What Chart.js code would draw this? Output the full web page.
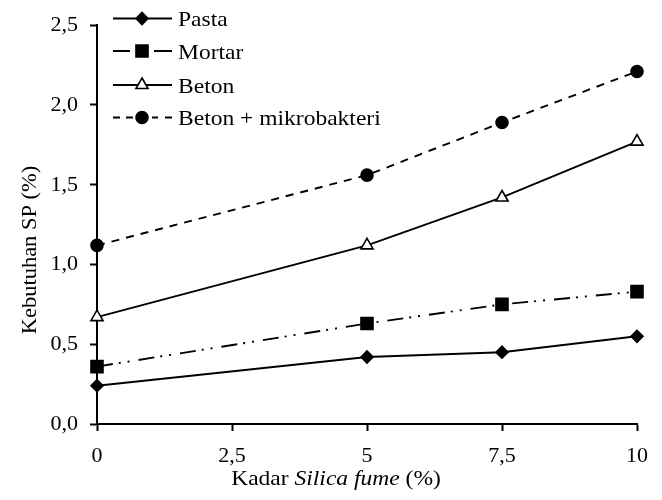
<!DOCTYPE html>
<html>
<head>
<meta charset="utf-8">
<script src="https://cdn.jsdelivr.net/npm/chart.js@4/dist/chart.umd.min.js"></script>
<style>
html,body{margin:0;padding:0;background:#fff;}
#wrap{position:relative;width:662px;height:500px;}
</style>
</head>
<body>
<div id="wrap"><canvas id="c" width="662" height="500"></canvas></div>
<script>
// ---- data ----
const silicaFume = [0, 5, 7.5, 10];
const pasta = [0.24, 0.42, 0.45, 0.55];
const mortar = [0.36, 0.63, 0.75, 0.83];
const beton = [0.67, 1.12, 1.42, 1.77];
const betonMikro = [1.12, 1.56, 1.89, 2.21];
const seriesNames = ['Pasta', 'Mortar', 'Beton', 'Beton + mikrobakteri'];
const xTickLabels = ['0', '2,5', '5', '7,5', '10'];
const yTickLabels = ['0,0', '0,5', '1,0', '1,5', '2,0', '2,5'];
const yTitle = 'Kebutuhan SP (%)';
const xTitleParts = [['Kadar ', false], ['Silica fume', true], [' (%)', false]];

const FONT = '"Liberation Serif", "Times New Roman", serif';
const FS = 21;
const HS = 1.12; // horizontal stretch of text in the reference

function pts(vals){ return vals.map((v,i)=>({x: silicaFume[i], y: v})); }

const styles = [
  {data: pasta, dash: [], ps: 'rectRot', r: 6, bg: '#000'},
  {data: mortar, dash: [16,6,2,7,2,9], ps: 'rect', r: 8.5, bg: '#000'},
  {data: beton, dash: [], ps: 'triangle', r: 7, bg: '#fff'},
  {data: betonMikro, dash: [8,7], ps: 'circle', r: 6, bg: '#000'}
];

const datasets = styles.map((s,i)=>({
  label: seriesNames[i],
  data: pts(s.data),
  borderColor: '#000',
  borderWidth: 1.9,
  borderDash: s.dash,
  pointStyle: s.ps,
  pointRadius: s.r,
  pointHoverRadius: s.r,
  pointBackgroundColor: s.bg,
  pointBorderColor: '#000',
  pointBorderWidth: 1.6,
  tension: 0,
  fill: false,
  clip: false
}));

function stretchedText(ctx, text, x, y, italic){
  ctx.save();
  ctx.font = (italic ? 'italic ' : '') + FS + 'px ' + FONT;
  ctx.translate(x, y);
  ctx.scale(HS, 1);
  ctx.textAlign = 'left';
  ctx.textBaseline = 'alphabetic';
  ctx.fillText(text, 0, 0);
  const w = ctx.measureText(text).width * HS;
  ctx.restore();
  return w;
}

const decor = {
  id: 'decor',
  afterDraw(chart){
    const ctx = chart.ctx;
    ctx.save();
    // legend
    const lx0 = 113, lx1 = 172, mx = 142, tx = 178;
    const baselines = [26, 58.5, 92.5, 125];
    chart.data.datasets.forEach((ds, i) => {
      const by = baselines[i];
      const ly = by - 7.5;
      ctx.save();
      ctx.strokeStyle = '#000';
      ctx.lineWidth = ds.borderWidth;
      ctx.beginPath();
      if (i === 1) {
        ctx.moveTo(lx0, ly); ctx.lineTo(lx0 + 17, ly);
        ctx.moveTo(lx1 - 18, ly); ctx.lineTo(lx1, ly);
      } else if (i === 3) {
        ctx.moveTo(lx0, ly); ctx.lineTo(lx0 + 7, ly);
        ctx.moveTo(lx0 + 13, ly); ctx.lineTo(lx0 + 20, ly);
        ctx.moveTo(lx1 - 20, ly); ctx.lineTo(lx1 - 14, ly);
        ctx.moveTo(lx1 - 7, ly); ctx.lineTo(lx1, ly);
      } else {
        ctx.moveTo(lx0, ly); ctx.lineTo(lx1, ly);
      }
      ctx.stroke();
      ctx.fillStyle = ds.pointBackgroundColor;
      ctx.strokeStyle = '#000';
      ctx.lineWidth = ds.pointBorderWidth;
      Chart.helpers.drawPoint(ctx, {pointStyle: ds.pointStyle, radius: ds.pointRadius, rotation: 0, borderWidth: ds.pointBorderWidth}, mx, ly);
      ctx.restore();
      ctx.fillStyle = '#000';
      stretchedText(ctx, ds.label, tx, by, false);
    });
    // x title
    ctx.fillStyle = '#000';
    let total = 0;
    xTitleParts.forEach(([t, it]) => { ctx.font = (it ? 'italic ' : '') + FS + 'px ' + FONT; total += ctx.measureText(t).width * HS; });
    let x = 336 - total / 2;
    xTitleParts.forEach(([t, it]) => { x += stretchedText(ctx, t, x, 485, it); });
    // y title
    ctx.save();
    ctx.translate(36, 250);
    ctx.rotate(-Math.PI / 2);
    ctx.scale(1.07, 1);
    ctx.font = FS + 'px ' + FONT;
    ctx.textAlign = 'center';
    ctx.textBaseline = 'alphabetic';
    ctx.fillText(yTitle, 0, 0);
    ctx.restore();
    ctx.restore();
  }
};

new Chart(document.getElementById('c'), {
  type: 'line',
  data: { datasets },
  options: {
    responsive: false,
    animation: false,
    events: [],
    layout: { padding: { left: 0, right: 25, top: 16, bottom: 0 } },
    plugins: { legend: { display: false }, tooltip: { enabled: false } },
    scales: {
      x: {
        type: 'linear', min: 0, max: 10,
        afterFit(s){ s.height = 76; },
        afterBuildTicks(s){ s.ticks = [0, 2.5, 5, 7.5, 10].map(v => ({value: v})); },
        ticks: {
          color: '#000', padding: 12, maxRotation: 0, autoSkip: false,
          font: { family: FONT, size: 22 },
          callback: (v, i) => xTickLabels[i]
        },
        grid: { display: true, drawOnChartArea: false, drawTicks: true, tickLength: 7, tickColor: '#000', tickWidth: 2 },
        border: { display: true, color: '#000', width: 2 }
      },
      y: {
        type: 'linear', min: 0, max: 2.5,
        afterFit(s){ s.width = 97; },
        ticks: {
          stepSize: 0.5, color: '#000', padding: 12,
          font: { family: FONT, size: 22 },
          callback: (v, i) => yTickLabels[i]
        },
        grid: { display: true, drawOnChartArea: false, drawTicks: true, tickLength: 7, tickColor: '#000', tickWidth: 2 },
        border: { display: true, color: '#000', width: 2 }
      }
    }
  },
  plugins: [decor]
});
</script>
</body>
</html>
